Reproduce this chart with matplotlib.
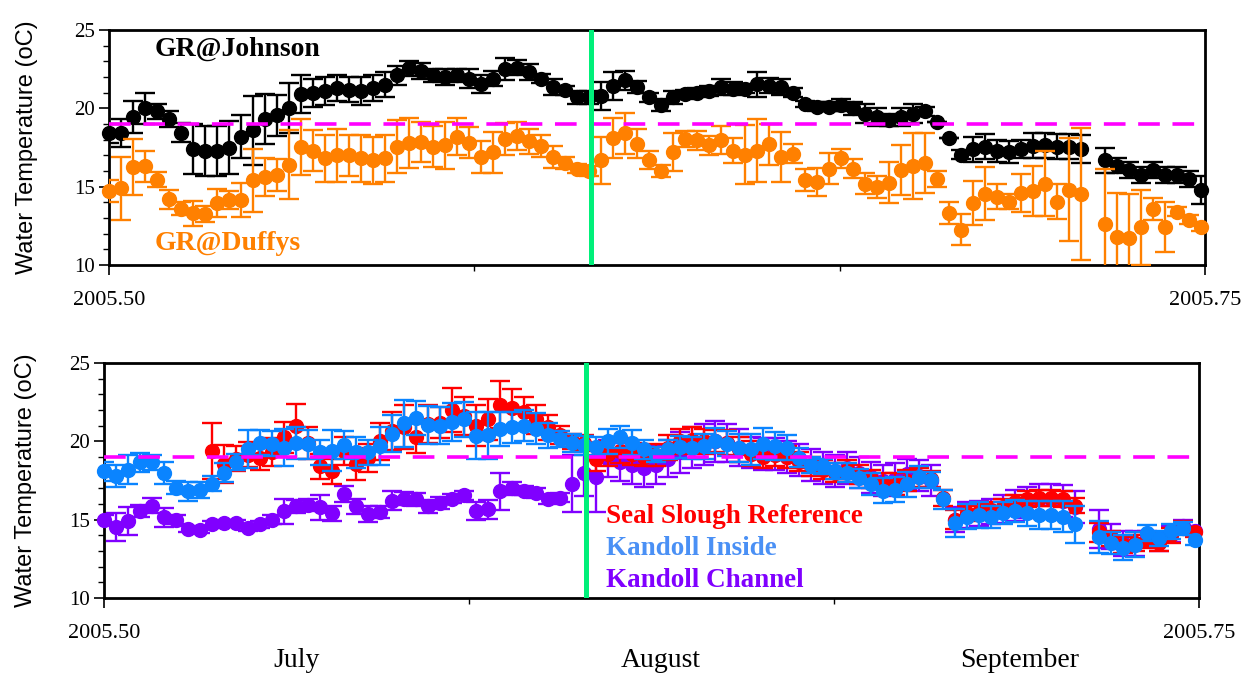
import numpy as np
import matplotlib
matplotlib.use("Agg")
import matplotlib.pyplot as plt
import matplotlib.transforms as mtransforms

nan = np.nan

# ---------------- data (daily means, day 0 = 2005.50) ----------------
days = list(range(92))

johnson = [18.4, 18.45, 19.45, 20.0, 19.8, 19.3, 18.45, 17.4, 17.3, 17.3, 17.5, 18.2, 18.6, 19.3, 19.55, 20.0,
           20.9, 21.0, 21.1, 21.3, 21.2, 21.1, 21.3, 21.5, 22.1, 22.55, 22.4, 22.1, 22.0, 22.1, 21.9,
           21.55, 21.9, 22.5, 22.6, 22.3, 21.9, 21.35, 21.15, 20.7, 20.7, 20.8, 21.45, 21.8, 21.35, 20.7,
           20.2, 20.7, 20.9, 21.0, 21.1, 21.35, 21.25, 21.25, 21.55, 21.45, 21.35, 21.0, 20.3, 20.1, 20.1, 20.2,
           20.0, 19.65, 19.45, 19.25, 19.45, 19.65, 19.8, 19.1, 18.1, 17.05, 17.4, 17.55, 17.3, 17.2, 17.4,
           17.6, 17.65, 17.55, 17.55, 17.4, nan, 16.7, 16.35, 16.05, 15.75, 16.05, 15.75, 15.75, 15.5, 14.8]
johnson_err = [0.6, 0.9, 1.0, 1.0, 0.5, 0.5, 0.6, 1.6, 1.6, 1.6, 1.7, 1.4, 2.2, 1.6, 1.3, 1.6, 1.2, 0.9, 0.9,
               0.8, 0.8, 0.9, 0.8, 0.8, 0.6, 0.5, 0.5, 0.4, 0.5, 0.4, 0.6,
               0.6, 0.5, 0.7, 0.5, 0.5, 0.3, 0.5, 0.3, 0.4, 0.4, 0.9, 0.9, 0.6, 0.4, 0.3, 0.4, 0.4, 0.3, 0.3,
               0.3, 0.5, 0.4, 0.3, 0.8, 0.5, 0.5, 0.3, 0.2, 0.3, 0.3, 0.4,
               0.4, 0.6, 0.6, 0.4, 0.6, 0.6, 0.3, 0.0, 0.0, 0.3, 0.8, 0.8, 0.7, 0.7, 0.6, 0.8, 0.8, 0.8, 0.8,
               0.9, nan, 0.8, 0.5, 0.5, 0.5, 0.5, 0.5, 0.5, 0.5, 0.9]

duffys = [14.7, 14.9, 16.25, 16.3, 15.45, 14.2, 13.6, 13.3, 13.25, 13.95, 14.15, 14.15, 15.4, 15.6, 15.75,
          16.4, 17.55, 17.3, 16.8, 17.0, 17.0, 16.8, 16.7, 16.8, 17.55, 17.8, 17.85, 17.55, 17.65, 18.2, 17.8,
          16.9, 17.2, 18.05, 18.25, 17.9, 17.6, 16.9, 16.5, 16.15, 16.0, 16.7, 18.1, 18.4, 17.75, 16.7,
          16.0, 17.2, 18.05, 17.95, 17.65, 18.0, 17.3, 17.05, 17.3, 17.7, 16.9, 17.1, 15.4, 15.3, 16.15, 16.8,
          16.15, 15.2, 14.95, 15.25, 16.05, 16.3, 16.5, 15.5, 13.3, 12.25, 13.95, 14.55, 14.35, 14.05, 14.6,
          14.7, 15.2, 14.05, 14.8, 14.55, nan, 12.6, 11.8, 11.75, 12.4, 13.6, 12.45, 13.4, 12.9, 12.45]
duffys_err = [0.7, 2.0, 1.8, 1.0, 0.5, 0.6, 0.4, 0.8, 0.5, 0.9, 0.6, 1.1, 2.0, 1.2, 1.0, 2.2, 1.8, 1.3, 1.5,
              1.7, 1.3, 1.5, 1.5, 1.5, 1.7, 1.6, 1.3, 1.3, 1.5, 1.2, 1.0,
              1.0, 1.3, 1.0, 0.9, 0.8, 0.7, 0.7, 0.4, 0.3, 0.3, 1.5, 1.3, 1.3, 0.9, 0.6, 0.4, 1.2, 0.5, 0.6,
              0.6, 0.9, 0.8, 1.9, 2.0, 1.3, 1.6, 0.6, 0.7, 0.9, 1.0, 0.6,
              0.6, 0.7, 0.7, 1.3, 1.6, 2.1, 1.9, 0.5, 0.7, 1.0, 1.4, 1.7, 0.8, 0.5, 1.2, 1.6, 2.1, 1.1, 3.3,
              4.2, nan, 3.5, 2.8, 2.8, 2.4, 0.7, 1.6, 0.3, 0.3, 0.3]

seal = [nan] * 9 + [19.4, 18.55, 18.9, 19.15, 18.95, 19.3, 20.25, 21.0, 19.9, 18.4, 18.1, 19.4, 18.55, 18.95,
                    20.0, 20.65, 20.9, 20.25, 21.1, 21.2, 22.0, 21.6,
                    21.0, 21.4, 22.35, 22.15, 21.85, 21.4, 20.9, 20.4, 20.0, 19.9, 18.9, 19.2, 19.4, 19.2, 19.0,
                    19.1, 19.6, 20.0, 20.1, 20.0, 20.0, 19.9, 19.5, 19.2, 19.0, 19.1, 19.0, 18.7, 18.4, 18.2, 18.0,
                    18.2, 17.9, 17.6, 17.3, 17.3, 17.5, 17.7, 17.6, 16.4, 15.0, 15.4, 15.5, 15.6, 15.8, 16.1,
                    16.3, 16.4, 16.4, 16.3, 15.9, nan, 14.2, 13.8, 13.4, 13.5, 13.7, 13.5, 14.0, 14.5, 14.2]
seal_err = [nan] * 9 + [1.8, 1.2, 0.8, 0.8, 0.8, 0.9, 1.0, 1.4, 1.0, 0.8, 0.8, 0.9, 1.0, 0.9, 1.2, 1.2, 1.4,
                        1.0, 1.2, 1.0, 1.4, 1.2,
                        1.3, 1.3, 1.5, 1.2, 1.0, 0.9, 0.8, 0.6, 0.5, 0.5, 0.8, 0.8, 0.8, 0.7, 0.6, 0.7, 0.8,
                        0.8, 0.8, 0.8, 0.7, 0.8, 0.8, 0.8, 0.7, 0.7, 0.7, 0.6, 0.6, 0.6, 0.6,
                        0.6, 0.6, 0.6, 0.7, 0.7, 0.7, 0.6, 0.5, 0.5, 0.6, 0.5, 0.5, 0.5, 0.5, 0.5, 0.5, 0.5,
                        0.5, 0.5, 0.5, nan, 0.6, 0.5, 0.5, 0.5, 0.5, 0.5, 0.5, 0.4, 0.3]

inside = [18.1, 17.8, 18.2, 18.65, 18.65, 18.0, 17.05, 16.8, 16.9, 17.3, 18.0, 18.7, 19.5, 19.9, 19.85, 19.6,
          19.9, 19.8, 19.3, 19.4, 19.75, 19.3, 19.3, 19.7, 20.5, 21.15, 21.5, 21.05, 21.0, 21.25, 21.4,
          20.35, 20.4, 20.8, 20.9, 21.0, 20.8, 20.4, 20.15, 19.9, 19.75, 19.65, 20.0, 20.25, 19.9, 19.5,
          19.15, 19.5, 19.65, 19.6, 19.7, 20.05, 19.85, 19.6, 19.5, 19.85, 19.7, 19.6, 18.95, 18.5, 18.4, 18.1,
          18.0, 17.65, 17.25, 16.85, 16.9, 17.25, 17.7, 17.55, 16.3, 14.8, 15.2, 15.3, 15.2, 15.4, 15.55,
          15.4, 15.3, 15.3, 15.2, 14.7, nan, 13.9, 13.5, 13.2, 13.4, 14.15, 13.8, 14.25, 14.45, 13.7]
inside_err = [0.6, 0.7, 0.9, 0.6, 0.5, 0.7, 0.4, 0.6, 0.5, 0.5, 0.6, 0.5, 1.2, 0.8, 0.8, 1.2, 1.0, 0.9, 0.8,
              1.3, 0.9, 1.0, 0.8, 1.2, 1.2, 1.5, 1.1, 1.2, 1.2, 1.2, 1.1,
              1.5, 1.5, 1.1, 1.0, 1.0, 1.0, 0.8, 0.5, 0.6, 0.6, 0.6, 0.8, 0.7, 0.8, 0.6, 0.5, 0.6, 0.7, 0.7,
              0.8, 0.8, 0.8, 0.9, 1.0, 1.0, 0.9, 0.8, 0.6, 0.5, 0.5, 0.5,
              0.6, 0.6, 0.7, 0.8, 0.8, 0.8, 0.7, 0.5, 0.6, 0.9, 0.8, 0.8, 0.7, 0.7, 0.7, 0.8, 0.9, 0.9, 1.0,
              1.2, nan, 1.0, 0.7, 0.8, 0.8, 0.5, 0.5, 0.5, 0.4, 0.3]

channel = [15.0, 14.55, 14.9, 15.55, 15.9, 15.15, 15.0, 14.4, 14.35, 14.7, 14.8, 14.8, 14.5, 14.7, 15.0, 15.55,
           15.85, 15.95, 15.8, 15.4, 16.65, 15.85, 15.35, 15.5, 16.2, 16.35, 16.3, 15.85, 16.05, 16.35, 16.55,
           15.55, 15.65, 16.8, 17.0, 16.85, 16.7, 16.3, 16.4, 17.3, 18.0, 17.7, 18.9, 18.7, 18.5, 18.3,
           18.5, 18.9, 19.3, 19.6, 19.8, 20.0, 19.9, 19.6, 19.3, 19.2, 19.2, 19.0, 18.8, 18.5, 18.3, 18.1,
           18.3, 18.0, 17.7, 17.5, 17.6, 17.9, 17.8, 17.5, nan, 15.0, 15.3, 15.4, 15.5, 15.7, 15.9,
           16.1, 16.3, 16.3, 16.2, 15.8, nan, 14.4, 13.9, 13.5, 13.5, 13.8, 13.6, 14.1, 14.6, 14.3]
channel_err = [0.3, 0.9, 0.9, 0.4, 0.5, 0.6, 0.3, 0.2, 0.2, 0.2, 0.2, 0.2, 0.2, 0.2, 0.3, 0.8, 0.4, 0.4, 0.8,
               0.5, 0.5, 0.5, 0.5, 0.4, 0.6, 0.4, 0.4, 0.4, 0.4, 0.3, 0.3,
               0.6, 0.6, 1.2, 0.4, 0.3, 0.3, 0.3, 0.3, 1.8, 1.5, 2.2, 1.2, 1.2, 1.2, 1.2, 1.2, 1.2, 1.3, 1.3,
               1.3, 1.3, 1.2, 1.2, 1.0, 1.0, 1.0, 1.0, 1.0, 1.0, 1.0, 1.0,
               1.0, 1.0, 1.0, 1.0, 1.0, 1.0, 1.0, 1.0, nan, 0.8, 0.8, 0.8, 0.8, 0.9, 1.0, 1.0, 1.0, 1.0, 1.0,
               1.0, nan, 1.2, 0.8, 0.8, 0.8, 0.5, 0.6, 0.5, 0.4, 0.3]

x_start, x_end = 2005.50, 2005.75
threshold = 19.0
event_date = 2005.61
month_names = ["July", "August", "September"]
month_centers = [2005.544, 2005.627, 2005.709]

# ---------------- style ----------------
SERIF = ["Liberation Serif", "DejaVu Serif"]
SANS = ["Liberation Sans", "DejaVu Sans"]
plt.rcParams['font.family'] = SERIF

C_BLACK = "#000000"
C_ORANGE = "#ff8000"
C_RED = "#ff0000"
C_BLUE = "#0a84ff"
C_PURPLE = "#8000ff"
C_MAGENTA = "#ff00ff"
C_GREEN = "#00f07a"

xdates = x_start + np.array(days) / 365.3

fig = plt.figure(figsize=(12.51, 6.75), dpi=100)
ax1 = fig.add_axes([109 / 1251, 1 - 265 / 675, 1096 / 1251, 235 / 675])
ax2 = fig.add_axes([104 / 1251, 1 - 598 / 675, 1095 / 1251, 235 / 675])


def series(ax, y, err, color, z):
    cont = ax.errorbar(xdates, np.array(y, float), yerr=np.array(err, float), fmt='o', color=color,
                       ms=10, mec=color, elinewidth=1.7, capsize=7, capthick=1.7, zorder=z)
    cont[0].set_clip_on(False)


series(ax1, johnson, johnson_err, C_BLACK, 3)
series(ax1, duffys, duffys_err, C_ORANGE, 4)

series(ax2, channel, channel_err, C_PURPLE, 3)
series(ax2, seal, seal_err, C_RED, 4)
series(ax2, inside, inside_err, C_BLUE, 5)

for ax, lx in ((ax1, -0.065), (ax2, -0.061)):
    ax.axhline(threshold, color=C_MAGENTA, lw=2.6, dashes=(6, 3.5), zorder=6)
    ax.axvline(event_date, color=C_GREEN, lw=3.6, zorder=7)
    ax.set_xlim(x_start, x_end)
    ax.set_ylim(10, 25)
    ax.set_yticks([10, 15, 20, 25])
    ax.set_yticks(np.arange(10, 26, 1), minor=True)
    ax.set_xticks([x_start, x_end])
    ax.set_xticklabels(["2005.50", "2005.75"])
    ax.set_xticks([x_start + 1 / 12, x_start + 2 / 12], minor=True)
    ax.tick_params(axis='both', which='major', direction='out', length=7, width=1.2,
                   labelsize=15)
    ax.tick_params(axis='x', which='major', labelsize=16, pad=12)
    ax.tick_params(axis='both', which='minor', direction='out', length=4, width=1.0)
    ax.tick_params(axis='y', which='major', pad=3)
    for s in ax.spines.values():
        s.set_linewidth(2.0)
    ax.set_ylabel("Water Temperature (oC)", family=SANS, fontsize=17)
    ax.yaxis.set_label_coords(lx, 0.5)

ax1.text(0.042, 0.92, "GR@Johnson", transform=ax1.transAxes, color=C_BLACK,
         fontsize=20, fontweight='bold', ha='left', va='center')
ax1.text(0.042, 0.09, "GR@Duffys", transform=ax1.transAxes, color=C_ORANGE,
         fontsize=20, fontweight='bold', ha='left', va='center')

ax2.text(0.458, 0.345, "Seal Slough Reference", transform=ax2.transAxes, color=C_RED,
         fontsize=19.5, fontweight='bold', ha='left', va='center')
ax2.text(0.458, 0.21, "Kandoll Inside", transform=ax2.transAxes, color="#4a90f5",
         fontsize=19.5, fontweight='bold', ha='left', va='center')
ax2.text(0.458, 0.075, "Kandoll Channel", transform=ax2.transAxes, color=C_PURPLE,
         fontsize=19.5, fontweight='bold', ha='left', va='center')

trans = mtransforms.blended_transform_factory(ax2.transData, ax2.transAxes)
for name, xc in zip(month_names, month_centers):
    ax2.text(xc, -0.268, name, transform=trans, fontsize=20, ha='center', va='center')

fig.savefig("out.png", dpi=100)
